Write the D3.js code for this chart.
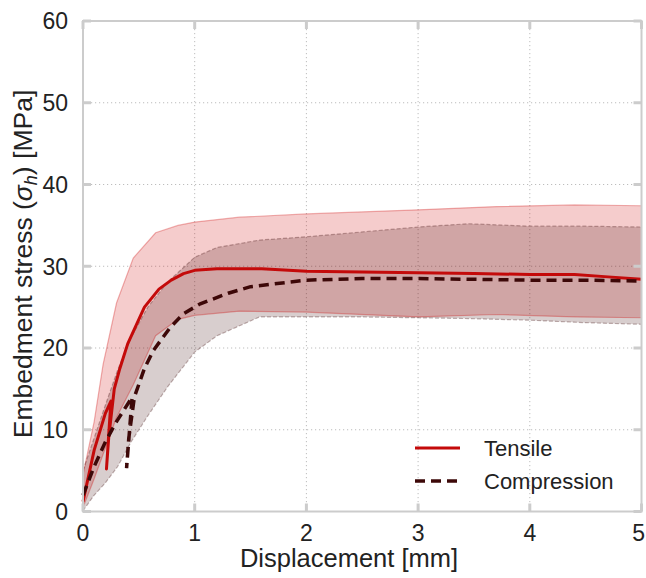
<!DOCTYPE html>
<html>
<head>
<meta charset="utf-8">
<script src="https://cdn.jsdelivr.net/npm/d3@7"></script>
<style>
  body { margin: 0; background: #fff; }
  svg { font-family: "Liberation Sans", Arial, sans-serif; }
</style>
</head>
<body>
<div id="chart"></div>
<script>
// mean curves
var tensileX = [0, 0.1, 0.2, 0.25, 0.21, 0.23, 0.28, 0.33, 0.4, 0.55, 0.68, 0.79, 0.9, 1.0, 1.2, 1.6, 2.0, 2.5, 3.0, 3.5, 4.0, 4.4, 4.7, 5.0];
var tensileY = [1.2, 7.5, 12, 13.5, 5.2, 9, 15, 17.5, 20.5, 25, 27.2, 28.3, 29.1, 29.5, 29.7, 29.7, 29.4, 29.3, 29.2, 29.1, 29.0, 29.0, 28.7, 28.4];
var compX = [0, 0.1, 0.2, 0.3, 0.44, 0.39, 0.41, 0.46, 0.55, 0.63, 0.78, 0.9, 1.05, 1.3, 1.5, 2.0, 2.5, 3.0, 3.5, 4.0, 4.5, 5.0];
var compY = [2, 5.5, 8.5, 11, 14, 5.3, 9, 14, 17.5, 19.7, 22.5, 24.2, 25.4, 26.7, 27.5, 28.3, 28.5, 28.5, 28.4, 28.3, 28.3, 28.2];

// spread bands
var tensileBandX = [0, 0.1, 0.18, 0.3, 0.45, 0.65, 0.85, 1.0, 1.4, 2.0, 3.0, 3.7, 4.4, 5.0];
var tensileUpper = [4.5, 11, 18, 25.5, 31, 34.1, 35, 35.4, 36, 36.4, 36.9, 37.3, 37.5, 37.4];
var tensileLower = [0.5, 4, 7, 11.5, 15.5, 21.5, 23.5, 24, 24.5, 24.4, 23.8, 24.1, 23.8, 23.7];
var compBandX = [0, 0.1, 0.2, 0.31, 0.43, 0.58, 0.76, 1.0, 1.2, 1.58, 2.0, 2.5, 3.0, 3.45, 4.0, 4.5, 5.0];
var compUpper = [5, 9, 13, 17.3, 21.3, 25, 28.1, 31.1, 32.3, 33.2, 33.6, 34.2, 34.8, 35.2, 34.9, 34.9, 34.8];
var compLower = [0.1, 2, 3.5, 5.5, 8.5, 11.7, 15.3, 19.5, 21.5, 23.8, 23.8, 23.8, 23.7, 23.6, 23.4, 23.1, 22.9];

var xTicks = [0, 1, 2, 3, 4, 5];
var yTicks = [0, 10, 20, 30, 40, 50, 60];

var W = 646, H = 578;
var margin = {top: 21, right: 5, bottom: 66, left: 83},
    width = 641.5 - margin.left,
    height = 511.5 - margin.top;

var svg = d3.select("#chart").append("svg")
    .attr("width", W).attr("height", H)
  .append("g")
    .attr("transform", "translate(" + margin.left + "," + margin.top + ")");

var x = d3.scaleLinear().domain([0, 5]).range([0, width]);
var y = d3.scaleLinear().domain([0, 60]).range([height, 0]);

// grid
svg.selectAll(".vgrid").data(xTicks.slice(1, -1)).enter().append("line")
    .attr("x1", d => x(d)).attr("x2", d => x(d))
    .attr("y1", 0).attr("y2", height)
    .attr("stroke", "#bdbdbd").attr("stroke-width", 1).attr("stroke-dasharray", "1.2,2.8");
svg.selectAll(".hgrid").data(yTicks.slice(1, -1)).enter().append("line")
    .attr("y1", d => y(d)).attr("y2", d => y(d))
    .attr("x1", 0).attr("x2", width)
    .attr("stroke", "#bdbdbd").attr("stroke-width", 1).attr("stroke-dasharray", "1.2,2.8");

// bands
var tBand = tensileBandX.map((v, i) => [v, tensileLower[i], tensileUpper[i]]);
var cBand = compBandX.map((v, i) => [v, compLower[i], compUpper[i]]);
var area = d3.area().x(d => x(d[0])).y0(d => y(d[1])).y1(d => y(d[2]));
var edgeUp = d3.line().x(d => x(d[0])).y(d => y(d[2]));
var edgeLo = d3.line().x(d => x(d[0])).y(d => y(d[1]));

svg.append("path").datum(tBand).attr("d", area)
    .attr("fill", "rgb(204,0,0)").attr("fill-opacity", 0.2);
svg.append("path").datum(cBand).attr("d", area)
    .attr("fill", "rgb(61,10,10)").attr("fill-opacity", 0.2);

[edgeUp, edgeLo].forEach(function(f) {
  svg.append("path").datum(tBand).attr("d", f)
      .attr("fill", "none").attr("stroke", "rgba(204,0,0,0.3)").attr("stroke-width", 1.2);
  svg.append("path").datum(cBand).attr("d", f)
      .attr("fill", "none").attr("stroke", "rgba(61,10,10,0.3)").attr("stroke-width", 1.2)
      .attr("stroke-dasharray", "4,2");
});

// mean lines
var line = d3.line().x(d => x(d[0])).y(d => y(d[1]));
svg.append("path").datum(tensileX.map((v, i) => [v, tensileY[i]])).attr("d", line)
    .attr("fill", "none").attr("stroke", "#c40a0a").attr("stroke-width", 3)
    .attr("stroke-linejoin", "round");
svg.append("path").datum(compX.map((v, i) => [v, compY[i]])).attr("d", line)
    .attr("fill", "none").attr("stroke", "#3d0808").attr("stroke-width", 3.5)
    .attr("stroke-dasharray", "10,6");

// frame
svg.append("rect").attr("width", width).attr("height", height)
    .attr("fill", "none").attr("stroke", "#cccccc").attr("stroke-width", 2);

// tick marks on all four sides
var tk = 8;
xTicks.forEach(function(d) {
  svg.append("line").attr("x1", x(d)).attr("x2", x(d)).attr("y1", height).attr("y2", height - tk)
      .attr("stroke", "#cccccc").attr("stroke-width", 3);
  svg.append("line").attr("x1", x(d)).attr("x2", x(d)).attr("y1", 0).attr("y2", tk)
      .attr("stroke", "#cccccc").attr("stroke-width", 3);
});
yTicks.forEach(function(d) {
  svg.append("line").attr("y1", y(d)).attr("y2", y(d)).attr("x1", 0).attr("x2", tk)
      .attr("stroke", "#cccccc").attr("stroke-width", 3);
  svg.append("line").attr("y1", y(d)).attr("y2", y(d)).attr("x1", width).attr("x2", width - tk)
      .attr("stroke", "#cccccc").attr("stroke-width", 3);
});

// tick labels (last one kept inside the page edge)
svg.selectAll(".xl").data(xTicks).enter().append("text")
    .attr("x", d => d === 5 ? W - 1 - margin.left : x(d)).attr("y", 541 - margin.top)
    .attr("text-anchor", d => d === 5 ? "end" : "middle")
    .style("font-size", "23px").attr("fill", "#222")
    .text(d => d);
svg.selectAll(".yl").data(yTicks).enter().append("text")
    .attr("x", -15).attr("y", d => y(d)).attr("dy", "0.36em")
    .attr("text-anchor", "end").style("font-size", "23px").attr("fill", "#222")
    .text(d => d);

// axis titles
svg.append("text")
    .attr("x", 349 - margin.left).attr("y", 567 - margin.top)
    .attr("text-anchor", "middle").style("font-size", "25.5px").attr("fill", "#222")
    .text("Displacement [mm]");

var yl = svg.append("text")
    .attr("transform", "translate(" + (32 - margin.left) + "," + (264 - margin.top) + ") rotate(-90)")
    .attr("text-anchor", "middle").style("font-size", "26.5px").attr("fill", "#222");
yl.append("tspan").text("Embedment stress (");
yl.append("tspan").style("font-style", "italic").text("σ");
yl.append("tspan").attr("dy", "5").style("font-size", "18px").style("font-style", "italic").text("h");
yl.append("tspan").attr("dy", "-5").text(") [MPa]");

// legend
var legend = [
  {name: "Tensile", color: "#c40a0a", dash: null, w: 3},
  {name: "Compression", color: "#3d0808", dash: "10,6", w: 3.5}
];
legend.forEach(function(l, i) {
  var ly = 448 + i * 33 - margin.top;
  svg.append("line").attr("x1", 415 - margin.left).attr("x2", 460 - margin.left)
      .attr("y1", ly).attr("y2", ly)
      .attr("stroke", l.color).attr("stroke-width", l.w)
      .attr("stroke-dasharray", l.dash);
  svg.append("text").attr("x", 484 - margin.left).attr("y", ly).attr("dy", "0.36em")
      .style("font-size", "22px").attr("fill", "#222").text(l.name);
});
</script>
</body>
</html>
